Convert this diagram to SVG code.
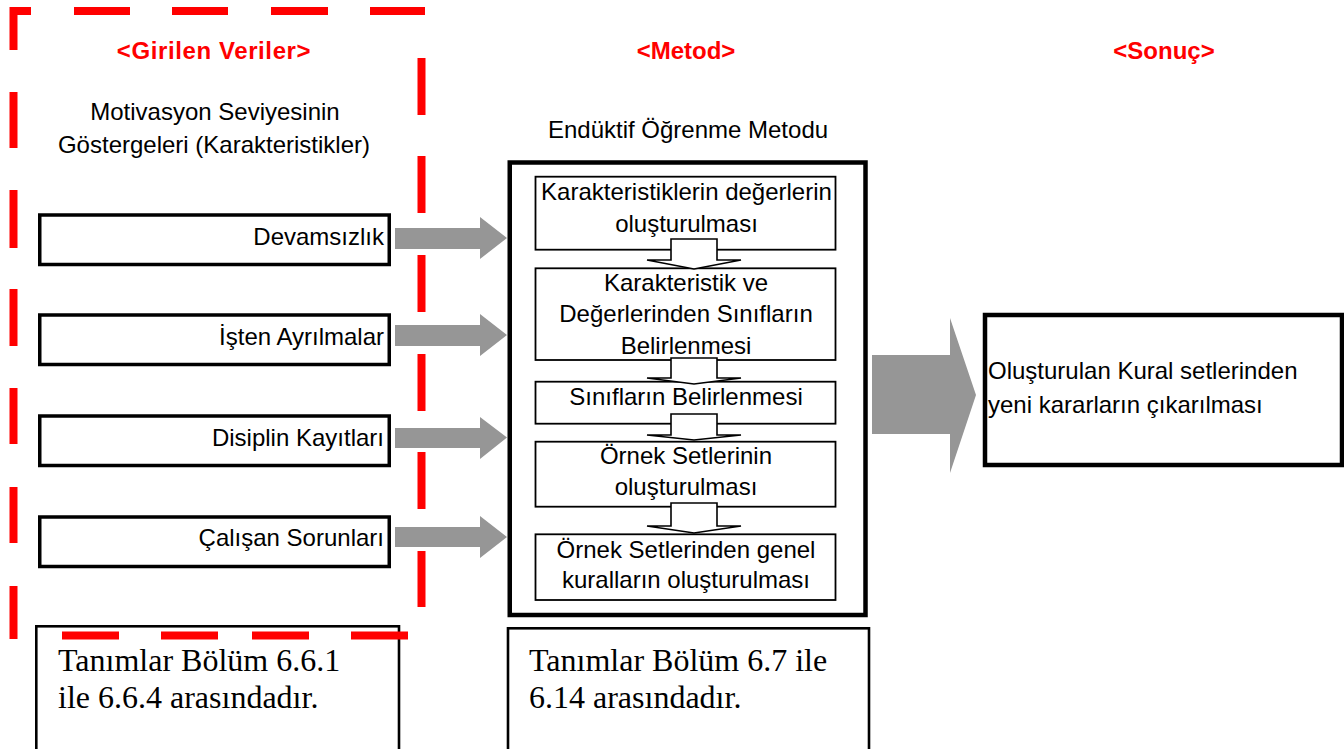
<svg xmlns="http://www.w3.org/2000/svg" width="1344" height="749" viewBox="0 0 1344 749">
<style>
.hd{fill:#ff0000;font-family:"Liberation Sans",Arial,sans-serif;font-weight:bold;font-size:24px;text-anchor:middle}
.t{font-family:"Liberation Sans",Arial,sans-serif;font-size:24px;fill:#000}
.c{text-anchor:middle}
.e{text-anchor:end}
.sf{font-family:"Liberation Serif","Times New Roman",serif;font-size:32px;fill:#000}
.dash{stroke:#ff0000;stroke-width:8;fill:none}
.inbox{fill:#fff;stroke:#000;stroke-width:3.5}
.outer{fill:#fff;stroke:#000;stroke-width:4.5}
.step{fill:#fff;stroke:#000;stroke-width:1.8}
.note{fill:#fff;stroke:#000;stroke-width:2.6}
.gray{fill:#969696}
.down{fill:#fff;stroke:#000;stroke-width:1.6;stroke-linejoin:miter}
</style>
<rect width="1344" height="749" fill="#fff"/>

<g id="headings">
<text class="hd" x="214" y="59" letter-spacing="0.6">&lt;Girilen Veriler&gt;</text>
<text class="hd" x="686" y="59">&lt;Metod&gt;</text>
<text class="hd" x="1164" y="59">&lt;Sonuç&gt;</text>
</g>

<g id="input-title">
<text class="t c" x="215" y="120">Motivasyon Seviyesinin</text>
<text class="t c" x="214" y="153">Göstergeleri (Karakteristikler)</text>
</g>

<g id="in-devamsizlik">
<rect class="inbox" x="39.75" y="215" width="349.5" height="49.5"/>
<text class="t e" x="384" y="245">Devamsızlık</text>
</g>
<g id="in-isten">
<rect class="inbox" x="39.75" y="315" width="349.5" height="49.5"/>
<text class="t e" x="384" y="345">İşten Ayrılmalar</text>
</g>
<g id="in-disiplin">
<rect class="inbox" x="39.75" y="416" width="349.5" height="49.5"/>
<text class="t e" x="384" y="446">Disiplin Kayıtları</text>
</g>
<g id="in-calisan">
<rect class="inbox" x="39.75" y="517" width="349.5" height="49.5"/>
<text class="t e" x="384" y="546">Çalışan Sorunları</text>
</g>

<g id="method">
<text class="t c" x="688" y="138">Endüktif Öğrenme Metodu</text>
<rect class="outer" x="509.75" y="162.5" width="355.75" height="452.5"/>
</g>
<g id="step1">
<rect class="step" x="535.5" y="176.7" width="300" height="73"/>
<text class="t c" x="686.5" y="199.5">Karakteristiklerin değerlerin</text>
<text class="t c" x="686.5" y="231.7">oluşturulması</text>
</g>
<g id="step2">
<rect class="step" x="535.5" y="268.3" width="300" height="91.7"/>
<text class="t c" x="686" y="290.7">Karakteristik ve</text>
<text class="t c" x="686" y="322.3">Değerlerinden Sınıfların</text>
<text class="t c" x="686" y="354">Belirlenmesi</text>
</g>
<g id="step3">
<rect class="step" x="535.5" y="381.7" width="300" height="42"/>
<text class="t c" x="686" y="405">Sınıfların Belirlenmesi</text>
</g>
<g id="step4">
<rect class="step" x="535.5" y="441.7" width="300" height="65"/>
<text class="t c" x="686" y="464">Örnek Setlerinin</text>
<text class="t c" x="686" y="495">oluşturulması</text>
</g>
<g id="step5">
<rect class="step" x="535.5" y="534.3" width="300" height="65.7"/>
<text class="t c" x="686" y="557.7">Örnek Setlerinden genel</text>
<text class="t c" x="686" y="587.7">kuralların oluşturulması</text>
</g>

<g id="result">
<rect class="outer" x="985" y="315" width="357" height="150" stroke-width="4"/>
<text class="t" x="988" y="379" font-size="23">Oluşturulan Kural setlerinden</text>
<text class="t" x="988" y="413" font-size="23">yeni kararların çıkarılması</text>
</g>

<g id="connectors">
<polygon class="gray" points="395,228 480,228 480,217 507,238 480,259 480,249 395,249"/>
<polygon class="gray" points="395,325 480,325 480,314 507,335 480,356 480,346 395,346"/>
<polygon class="gray" points="395,428 480,428 480,417 507,437.5 480,459 480,448 395,448"/>
<polygon class="gray" points="395,527 480,527 480,516 507,537 480,558 480,547 395,547"/>
<polygon class="gray" points="872,355 950,355 950,318 976,395 950,473 950,434 872,434"/>
<polygon class="down" points="671,239 717,239 717,260 741,260 694,269 647,260 671,260"/>
<polygon class="down" points="671,358 717,358 717,378 741,378 694,384 647,378 671,378"/>
<polygon class="down" points="671,414 717,414 717,435 741,435 694,440 647,435 671,435"/>
<polygon class="down" points="671,503 717,503 717,526 741,526 694,533 647,526 671,526"/>
</g>

<g id="note1">
<rect class="note" x="36.3" y="626.3" width="362.7" height="140"/>
<text class="sf" x="58" y="671">Tanımlar Bölüm 6.6.1</text>
<text class="sf" x="58" y="708">ile 6.6.4 arasındadır.</text>
</g>
<g id="note2">
<rect class="note" x="508" y="628.3" width="361" height="140"/>
<text class="sf" x="529" y="671">Tanımlar Bölüm 6.7 ile</text>
<text class="sf" x="529" y="708">6.14 arasındadır.</text>
</g>

<g id="input-frame">
<path class="dash" d="M10 11H31M74 11H130M172 11H228M271 11H328M370 11H425
M13.5 7V50M13.5 92V148M13.5 190V248M13.5 289V346M13.5 388V444M13.5 487V543M13.5 586V639
M421.5 58V115M421.5 156V213M421.5 255V312M421.5 354V411M421.5 452V509M421.5 551V607
M62 635.5H119M161 635.5H218M252 635.5H309M351 635.5H408"/>
</g>
</svg>
